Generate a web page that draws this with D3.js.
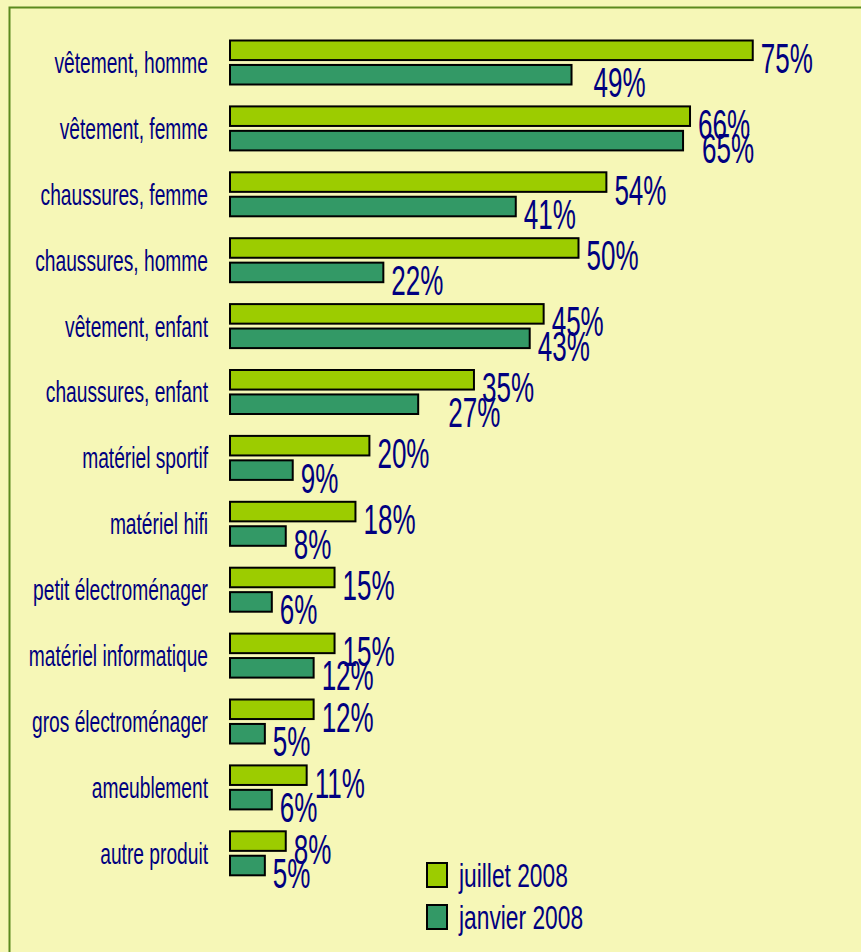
<!DOCTYPE html>
<html>
<head>
<meta charset="utf-8">
<script src="https://cdn.jsdelivr.net/npm/d3@7"></script>
<style>
  html, body { margin: 0; padding: 0; background: #f6f7b7; }
  svg { display: block; }
</style>
</head>
<body>
<svg id="chart" width="861" height="952"></svg>
<script>
const categories = [
  'vêtement, homme', 'vêtement, femme', 'chaussures, femme', 'chaussures, homme',
  'vêtement, enfant', 'chaussures, enfant', 'matériel sportif', 'matériel hifi',
  'petit électroménager', 'matériel informatique', 'gros électroménager',
  'ameublement', 'autre produit'
]
const seriesNames = ['juillet 2008', 'janvier 2008']
const juillet2008 = [75, 66, 54, 50, 45, 35, 20, 18, 15, 15, 12, 11, 8]
const janvier2008 = [49, 65, 41, 22, 43, 27, 9, 8, 6, 12, 5, 6, 5]

const colors = ['#9ccc00', '#339966']
const navy = '#000080'
const font = "'Liberation Sans', Arial, sans-serif"

// some labels were dragged a bit in the original
const nudge = { '0-1': 14, '1-1': 11, '5-1': 22 }

const rows = categories.map((c, i) => ({
  cat: c, i,
  vals: [juillet2008[i], janvier2008[i]]
}))

const svg = d3.select('#chart')

svg.append('rect')
  .attr('x', 0).attr('y', 0).attr('width', 861).attr('height', 952)
  .attr('fill', '#f6f7b7')

// frame
svg.append('rect')
  .attr('x', 9.5).attr('y', 7.5).attr('width', 900).attr('height', 1000)
  .attr('fill', 'none')
  .attr('stroke', '#5b8a1e')
  .attr('stroke-width', 2)

const x = d3.scaleLinear().domain([0, 100]).range([230, 927])

const y = d3.scaleBand()
  .domain(categories)
  .range([29.5, 29.5 + 65.9 * categories.length])

const ySub = d3.scaleBand()
  .domain(seriesNames)
  .range([11, 55])
  .paddingInner(0.2)

const g = svg.selectAll('g.row')
  .data(rows)
  .enter()
  .append('g')
    .attr('class', 'row')
    .attr('transform', d => `translate(0, ${y(d.cat)})`)

// category labels
g.append('text')
  .attr('transform', d => `translate(208, ${y.bandwidth() / 2 + 10.5}) scale(0.64, 1)`)
  .attr('text-anchor', 'end')
  .style('font-family', font)
  .style('font-size', '30px')
  .style('fill', navy)
  .text(d => d.cat)

const bars = g.selectAll('g.bar')
  .data(d => d.vals.map((v, k) => ({ v, k, i: d.i, s: seriesNames[k] })))
  .enter()
  .append('g')
    .attr('class', 'bar')

bars.append('rect')
  .attr('x', x(0))
  .attr('y', d => ySub(d.s))
  .attr('width', d => x(d.v) - x(0))
  .attr('height', ySub.bandwidth())
  .attr('fill', d => colors[d.k])
  .attr('stroke', '#000')
  .attr('stroke-width', 2)

bars.append('text')
  .attr('transform', d => {
    const tx = x(d.v) + 8 + (nudge[`${d.i}-${d.k}`] || 0)
    const ty = ySub(d.s) + ySub.bandwidth() / 2 + 22.5
    return `translate(${tx}, ${ty}) scale(0.62, 1)`
  })
  .style('font-family', font)
  .style('font-size', '42px')
  .style('fill', navy)
  .text(d => d.v + '%')

// legend
const legend = svg.append('g')
  .attr('transform', 'translate(427, 863)')

const lg = legend.selectAll('g')
  .data(seriesNames)
  .enter()
  .append('g')
    .attr('transform', (d, i) => `translate(0, ${i * 42})`)

lg.append('rect')
  .attr('x', 0).attr('y', 0)
  .attr('width', 20).attr('height', 24)
  .attr('fill', (d, i) => colors[i])
  .attr('stroke', '#000')
  .attr('stroke-width', 2)

lg.append('text')
  .attr('transform', 'translate(32, 24) scale(0.67, 1)')
  .style('font-family', font)
  .style('font-size', '34px')
  .style('fill', navy)
  .text(d => d)
</script>
</body>
</html>
